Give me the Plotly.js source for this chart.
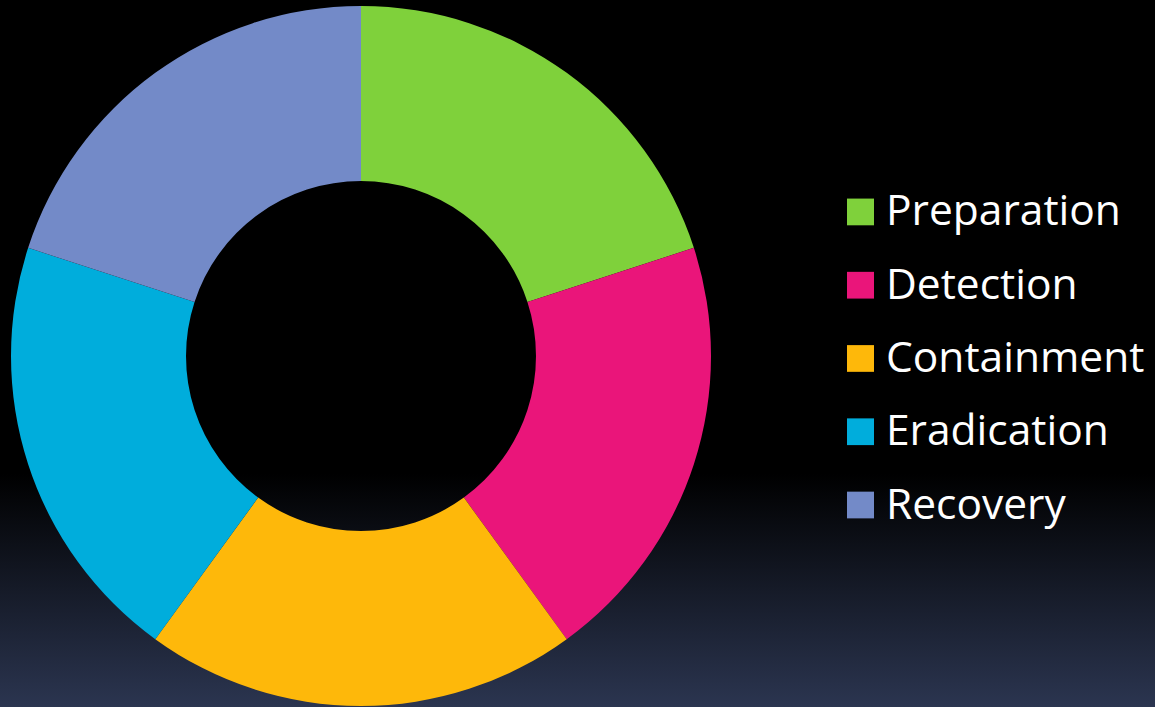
<!DOCTYPE html>
<html>
<head>
<meta charset="utf-8">
<script src="https://cdn.plot.ly/plotly-3.0.1.min.js"></script>
<style>
  html, body { margin: 0; padding: 0; width: 1155px; height: 707px; overflow: hidden; }
  body { background: linear-gradient(to bottom, #000000 0%, #000000 67%, #2b3550 100%); }
  #chart { width: 1155px; height: 707px; }
</style>
</head>
<body>
<div id="chart"></div>
<script>
const labels = ["Preparation", "Detection", "Containment", "Eradication", "Recovery"];
const values = [1, 1, 1, 1, 1];
const colors = ["#7fd13b", "#ea157a", "#feb80a", "#00addc", "#738ac8"];

const W = 1155, H = 707;
const legendX = 847, legendTop = 208, legendStep = 74, sq = 27;

const shapes = labels.map((l, i) => ({
  type: "rect", xref: "paper", yref: "paper",
  x0: legendX / W, x1: (legendX + sq) / W,
  y0: 1 - (legendTop + i * legendStep + sq / 2) / H,
  y1: 1 - (legendTop + i * legendStep - sq / 2) / H,
  fillcolor: colors[i], line: { width: 0 }
}));
const annotations = labels.map((l, i) => ({
  xref: "paper", yref: "paper", xanchor: "left", yanchor: "middle",
  x: (legendX + sq + 10) / W, y: 1 - (legendTop + i * legendStep - 3) / H,
  text: l, showarrow: false,
  font: { family: "'Open Sans', sans-serif", size: 42.5, color: "#ffffff" }
}));

Plotly.newPlot("chart", [{
  type: "pie",
  labels: labels,
  values: values,
  hole: 0.5,
  sort: false,
  direction: "clockwise",
  rotation: 0,
  textinfo: "none",
  hoverinfo: "label",
  marker: { colors: colors, line: { width: 0 } },
  domain: { x: [11 / W, 711 / W], y: [0, 1] }
}], {
  width: W, height: H,
  margin: { l: 0, r: 0, t: 6, b: 1 },
  paper_bgcolor: "rgba(0,0,0,0)",
  plot_bgcolor: "rgba(0,0,0,0)",
  showlegend: false,
  shapes: shapes,
  annotations: annotations
}, { displayModeBar: false, staticPlot: true });
</script>
</body>
</html>
